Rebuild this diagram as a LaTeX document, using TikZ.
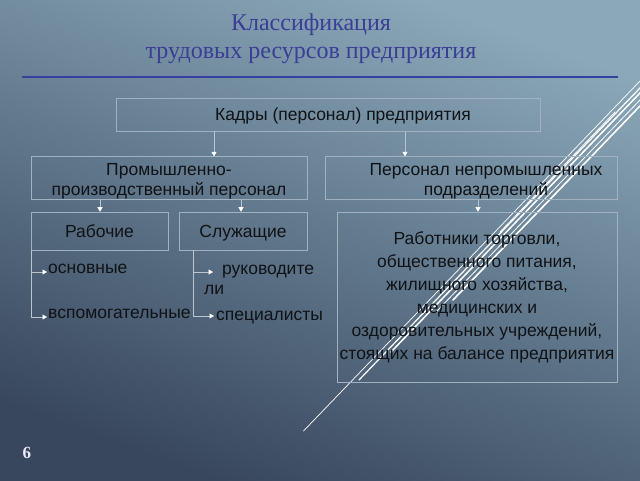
\documentclass[tikz,border=0pt]{standalone}
\usepackage{fontspec}
\setmainfont{Liberation Serif}
\newfontfamily\boxfont{Liberation Sans}
\usetikzlibrary{arrows.meta,calc}
\definecolor{bgtop}{RGB}{138,168,185}
\definecolor{bgbot}{RGB}{56,71,94}
\definecolor{titleblue}{RGB}{58,62,150}
\definecolor{rulecol}{RGB}{52,64,162}
\definecolor{boxline}{RGB}{160,178,192}
\definecolor{conncol}{RGB}{185,198,210}
\definecolor{txt}{RGB}{15,18,22}
\begin{document}
\begin{tikzpicture}[x=1pt,y=-1pt,
  box/.style={draw=boxline, line width=0.6pt, rectangle, inner sep=0pt,
    font=\boxfont\fontsize{17.5}{20}\selectfont, text=txt, align=center},
  onebox/.style={box, text height=12.5pt, text depth=0pt},
  conn/.style={draw=conncol, line width=0.6pt,
    -{Triangle[width=5pt,length=4.5pt,fill=white,color=white]}},
  lbl/.style={font=\boxfont\fontsize{17.5}{21}\selectfont, text=txt, inner sep=0pt, anchor=base west},
  deco/.style={draw=white, line cap=round}]
\shade[shading=axis, top color=bgtop, bottom color=bgbot, shading angle=-20] (0,0) rectangle (640,480);
\useasboundingbox (0,0) rectangle (640,480);
% title
\node[font=\fontsize{24}{28}\selectfont, text=titleblue, align=center] (title) at (311,38.5)
  {Классификация\\трудовых ресурсов предприятия};
\draw[rulecol, line width=2pt] (22,77) -- (618,77);
% decorative lines
\begin{scope}
\clip (0,0) rectangle (640,480);
\draw[deco, line width=0.7pt] (660,60.2) -- (303.5,431);
\draw[deco, line width=1.2pt] (660,67.2) -- (359,380);
\draw[deco, line width=1.5pt] (660,72.2) -- (391,352);
\draw[deco, line width=0.8pt] (660,79.2) -- (436,312);
\draw[deco, line width=1.6pt] (660,85.2) -- (453,300);
\draw[deco, line width=0.8pt] (615,112) -- (500,232);
\end{scope}
% boxes
\node[onebox, minimum width=424pt, minimum height=33pt] (kad) at (328,114.5)
  {\hspace*{30pt}Кадры (персонал) предприятия};
\node[box, minimum width=276pt, minimum height=38pt] (prom) at (169,178)
  {\rule{0pt}{19pt}Промышленно-\\производственный персонал};
\node[box, minimum width=292pt, minimum height=38pt] (nep) at (471,178)
  {\rule{0pt}{19pt}\hspace*{30pt}Персонал непромышленных\\\hspace*{30pt}подразделений};
\node[onebox, minimum width=137pt, minimum height=38pt] (rab) at (99.5,231) {Рабочие};
\node[onebox, minimum width=128pt, minimum height=38pt] (slu) at (243,231) {Служащие};
\node[box, minimum width=280pt, minimum height=170pt, font=\boxfont\fontsize{17.5}{23}\selectfont] (rtb) at (477,297)
  {Работники торговли,\\общественного питания,\\жилищного хозяйства,\\медицинских и\\оздоровительных учреждений,\\стоящих на балансе предприятия};
% branch labels
\node[lbl] (osn) at (48,273) {основные};
\node[lbl] (vsp) at (48,318) {вспомогательные};
\node[lbl] (ruk) at (222,274) {руководите};
\node[lbl] (li) at (204,294) {ли};
\node[lbl] (spc) at (216,320) {специалисты};
% connectors
\coordinate (xa) at (214,0);
\coordinate (xb) at (405,0);
\coordinate (xc) at (100,0);
\coordinate (xd) at (241,0);
\coordinate (xe) at (478,0);
\draw[conn] (kad.south -| xa) -- (prom.north -| xa);
\draw[conn] (kad.south -| xb) -- (nep.north -| xb);
\draw[conn] (prom.south -| xc) -- (rab.north -| xc);
\draw[conn] (prom.south -| xd) -- (slu.north -| xd);
\draw[conn] (nep.south -| xe) -- (rtb.north -| xe);
\coordinate (rj) at ($(rab.south west)+(1,0)$);
\coordinate (sj) at ($(slu.south west)+(15,0)$);
\draw[conn] (rj) |- ($(osn.base west)+(-1,-1)$);
\draw[conn] (rj) |- ($(vsp.base west)+(-1,-1)$);
\draw[conn] (sj) |- ($(ruk.base west)+(-9,-2)$);
\draw[conn] (sj) |- ($(spc.base west)+(-2,-4)$);
% page number
\node[font=\fontsize{17}{20}\selectfont\bfseries, text=white!92!blue] (pg) at (27,453) {6};
\end{tikzpicture}
\end{document}
